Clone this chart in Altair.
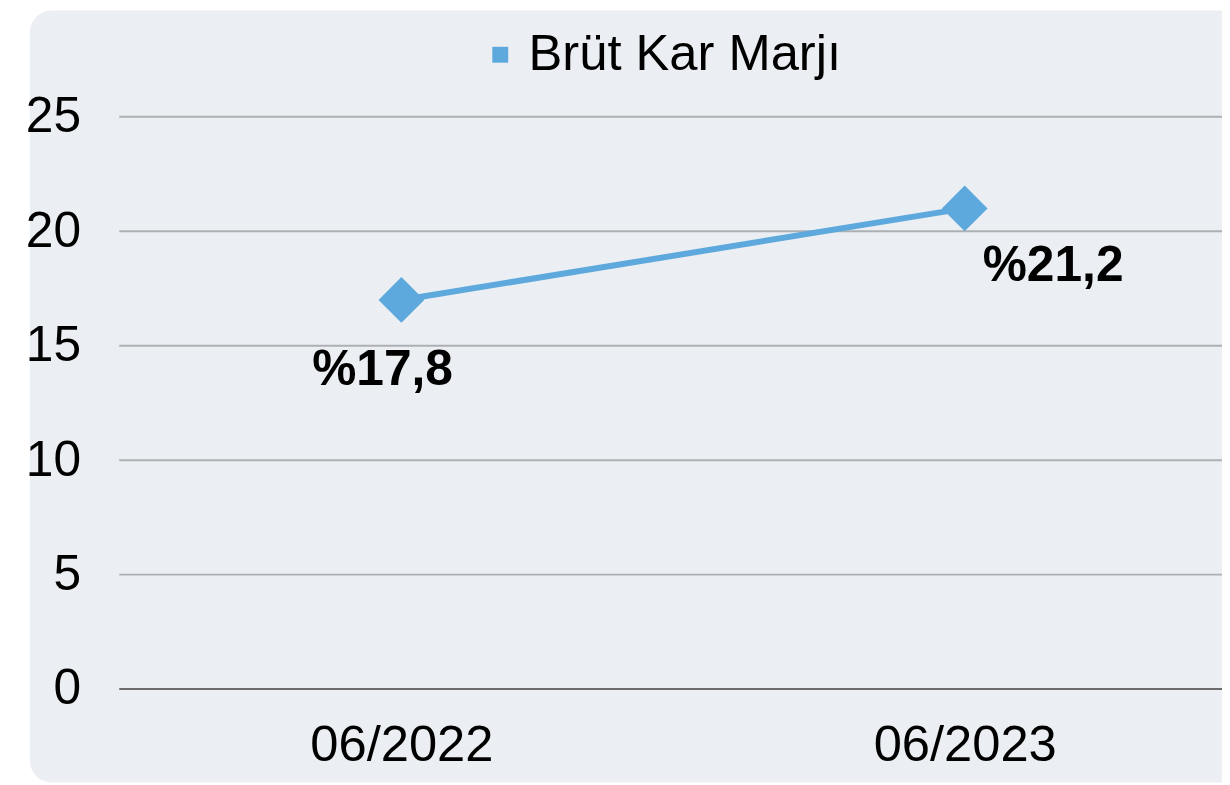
import altair as alt
import pandas as pd

# ---- data ----
periods = ["06/2022", "06/2023"]
margin_values = [17.0, 21.0]
value_labels = ["%17,8", "%21,2"]
series_name = "Brüt Kar Marjı"
y_ticks = [0, 5, 10, 15, 20, 25]

df = pd.DataFrame({
    "period": periods,
    "value": margin_values,
    "label": value_labels,
    "series": [series_name] * len(periods),
})
grid_df = pd.DataFrame({"tick": y_ticks})
bg_df = pd.DataFrame({"a": [0]})

LINE = "#5DA9DD"
BG = "#EBEEF2"
FONT = "Liberation Sans"

x_scale = alt.Scale(type="point", range=[284, 851], padding=0)
y_scale = alt.Scale(domain=[0, 25], nice=False)

x_axis = alt.Axis(labelFont=FONT, labelFontSize=51, labelColor="black", ticks=False,
                  domain=False, grid=False, zindex=2, labelPadding=32, labelAngle=0,
                  labelLimit=1000)
y_axis = alt.Axis(values=y_ticks, labelFont=FONT, labelFontSize=50, labelColor="black",
                  ticks=False, domain=False, grid=False, zindex=2, labelPadding=39,
                  labelLimit=1000)

x_enc = alt.X("period:O", scale=x_scale, sort=periods, title=None, axis=x_axis)
y_enc = alt.Y("value:Q", scale=y_scale, title=None, axis=y_axis)

background = alt.Chart(bg_df).mark_rect(color=BG, cornerRadius=22).encode(
    x=alt.value(-90), x2=alt.value(1140),
    y=alt.value(-107), y2=alt.value(670),
)

grid = alt.Chart(grid_df).mark_rule(strokeWidth=2).encode(
    y=alt.Y("tick:Q", scale=y_scale, title=None, axis=y_axis),
    color=alt.condition(alt.datum.tick == 0, alt.value("#6B6B6B"), alt.value("#ADB0B3")),
)

line = alt.Chart(df).mark_line(color=LINE, strokeWidth=6).encode(x=x_enc, y=y_enc)

points = alt.Chart(df).mark_point(shape="diamond", filled=True, size=2116, opacity=1).encode(
    x=x_enc, y=y_enc,
    color=alt.Color("series:N", scale=alt.Scale(range=[LINE]),
                    legend=alt.Legend(title=None, orient="none", legendX=358, legendY=-88,
                                      symbolType="square", symbolSize=256,
                                      symbolOpacity=1, symbolStrokeWidth=0,
                                      labelLimit=1000, labelOffset=3)),
)

lab1 = alt.Chart(df).mark_text(fontSize=50, fontWeight="bold", font=FONT, color="black",
                               dx=-19, dy=71).encode(
    x=x_enc, y=y_enc, text="label:N").transform_filter(alt.datum.period == periods[0])
lab2 = alt.Chart(df).mark_text(fontSize=50, fontWeight="bold", font=FONT, color="black",
                               dx=89, dy=58).encode(
    x=x_enc, y=y_enc, text="label:N").transform_filter(alt.datum.period == periods[1])

chart = alt.layer(background, grid, line, points, lab1, lab2).properties(
    width=1110, height=576,
    autosize=alt.AutoSizeParams(type="none"),
    padding={"left": 112, "top": 107, "right": 0, "bottom": 94},
    background="white",
).configure_view(stroke=None).configure_legend(
    labelFont=FONT, labelFontSize=51, labelColor="black", padding=0, zindex=2,
)

chart.save("out.html", embed_options={"renderer": "svg", "actions": False})
